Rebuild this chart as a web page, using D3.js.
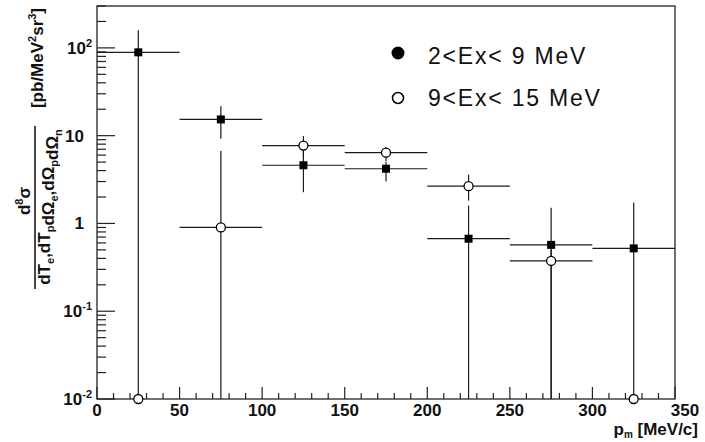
<!DOCTYPE html>
<html>
<head>
<meta charset="utf-8">
<script src="https://cdn.jsdelivr.net/npm/d3@7"></script>
<style>
  html, body { margin: 0; padding: 0; background: #fff; }
  svg { display: block; }
  text { font-family: "Liberation Sans", Arial, Helvetica, sans-serif; fill: #111; }
</style>
</head>
<body>
<svg id="chart" width="705" height="442"></svg>
<script>
// Missing-momentum bins (centres, MeV/c) and half bin width
const pm = [25, 75, 125, 175, 225, 275, 325];
const binHalfWidth = 25;

// 2 < Ex < 9 MeV : cross section and error band limits
const lowExValue = [89, 15.3, 4.6, 4.2, 0.67, 0.57, 0.52];
const lowExHigh  = [159, 21.6, 6.8, 5.0, 1.6, 1.51, 1.73];
const lowExLow   = [0, 9.2, 2.27, 3.0, 0, 0, 0];

// 9 < Ex < 15 MeV : cross section and error band limits (null = no error drawn)
const highExValue = [0.01, 0.90, 7.7, 6.4, 2.66, 0.374, 0.01];
const highExHigh  = [null, 6.7, 9.9, 7.4, 3.6, 0.5, null];
const highExLow   = [null, 0, 5.6, 5.1, 1.82, 0, null];

// Axis ticks
const xMajorTicks = [0, 50, 100, 150, 200, 250, 300, 350];
const yMajorTicks = [0.01, 0.1, 1, 10, 100];
const yTickLabels = [["10", "-2"], ["10", "-1"], ["1", ""], ["10", ""], ["10", "2"]];

const legendLabels = ["2<Ex< 9 MeV", "9<Ex< 15 MeV"];

const svg = d3.select("#chart");
const frame = { left: 97, right: 675, top: 6, bottom: 399 };
const yMin = 0.01, yMax = 300;

const x = d3.scaleLinear().domain([0, 350]).range([frame.left, frame.right]);
const y = d3.scaleLog().domain([yMin, yMax]).range([frame.bottom, frame.top]).clamp(true);
const yc = v => y(Math.max(v, yMin));

const ink = "#1a1a1a";

// Frame
svg.append("rect")
  .attr("x", frame.left).attr("y", frame.top)
  .attr("width", frame.right - frame.left).attr("height", frame.bottom - frame.top)
  .attr("fill", "none").attr("stroke", "#222").attr("stroke-width", 1.3);

// X axis: ticks point into the frame
const xMinor = d3.range(0, 351, 10);
const xAxis = svg.append("g").attr("transform", `translate(0,${frame.bottom})`);
xAxis.selectAll("line.minor").data(xMinor).join("line")
  .attr("x1", d => x(d)).attr("x2", d => x(d))
  .attr("y1", 0).attr("y2", d => (d % 50 === 0 ? -12 : -6))
  .attr("stroke", "#222").attr("stroke-width", 1.2);
xAxis.selectAll("text").data(xMajorTicks).join("text")
  .attr("x", d => x(d) + (d === 350 ? 10 : 0))
  .attr("y", 17)
  .attr("text-anchor", "middle")
  .attr("font-size", 17).attr("font-weight", "bold")
  .text(d => d);

// X title
const xt = svg.append("text")
  .attr("x", 698).attr("y", 435)
  .attr("text-anchor", "end")
  .attr("font-size", 17).attr("font-weight", "bold");
xt.append("tspan").text("p");
xt.append("tspan").attr("font-size", 10).attr("dy", 3).text("m");
xt.append("tspan").attr("dy", -3).text(" [MeV/c]");

// Y axis: log ticks
const yMinor = [];
for (let e = -2; e <= 2; e++) {
  for (let m = 1; m <= 9; m++) {
    const v = m * Math.pow(10, e);
    if (v <= yMax) yMinor.push({ v, major: m === 1 });
  }
}
const yAxis = svg.append("g").attr("transform", `translate(${frame.left},0)`);
yAxis.selectAll("line").data(yMinor).join("line")
  .attr("x1", 0).attr("x2", d => (d.major ? 18 : 9))
  .attr("y1", d => y(d.v)).attr("y2", d => y(d.v))
  .attr("stroke", "#222").attr("stroke-width", 1.2);

yMajorTicks.forEach((v, i) => {
  const [base, exp] = yTickLabels[i];
  const t = svg.append("text")
    .attr("x", exp ? 92 : 84)
    .attr("y", y(v) + 6)
    .attr("text-anchor", "end")
    .attr("font-size", 17).attr("font-weight", "bold");
  t.append("tspan").text(base);
  if (exp) t.append("tspan").attr("font-size", 11).attr("dy", -7).text(exp);
});

// Y title: fraction d8σ / (dTe dTp dΩe dΩp dΩn) with units
const yTitle = svg.append("g");
const num = yTitle.append("text")
  .attr("transform", "translate(30,201) rotate(-90)")
  .attr("text-anchor", "middle")
  .attr("font-size", 17).attr("font-weight", "bold");
num.append("tspan").text("d");
num.append("tspan").attr("font-size", 11).attr("dy", -7).text("8");
num.append("tspan").attr("dy", 7).text("σ");

yTitle.append("line")
  .attr("x1", 35).attr("x2", 35).attr("y1", 126).attr("y2", 289)
  .attr("stroke", ink).attr("stroke-width", 1.6);

const den = yTitle.append("text")
  .attr("transform", "translate(50,207) rotate(-90)")
  .attr("text-anchor", "middle")
  .attr("font-size", 17).attr("font-weight", "bold");
const denParts = [["dT", "e", ","], ["dT", "p", ""], ["dΩ", "e", ","], ["dΩ", "p", ""], ["dΩ", "n", ""]];
denParts.forEach(([main, sub, tail]) => {
  den.append("tspan").text(main);
  den.append("tspan").attr("font-size", 11).attr("dy", 4).text(sub);
  den.append("tspan").attr("dy", -4).text(tail);
});

const units = yTitle.append("text")
  .attr("transform", "translate(43,58) rotate(-90)")
  .attr("text-anchor", "middle")
  .attr("font-size", 17).attr("font-weight", "bold");
units.append("tspan").text("[pb/MeV");
units.append("tspan").attr("font-size", 11).attr("dy", -7).text("2");
units.append("tspan").attr("dy", 7).text("sr");
units.append("tspan").attr("font-size", 11).attr("dy", -7).text("3");
units.append("tspan").attr("dy", 7).text("]");

// Data series
const lowEx = pm.map((p, i) => ({ p, v: lowExValue[i], hi: lowExHigh[i], lo: lowExLow[i] }));
const highEx = pm.map((p, i) => ({ p, v: highExValue[i], hi: highExHigh[i], lo: highExLow[i] }));

const plot = svg.append("g");

function drawErrors(data) {
  const g = plot.append("g").attr("stroke", ink).attr("stroke-width", 1.2);
  const withErr = data.filter(d => d.hi !== null);
  g.selectAll("line.h").data(withErr).join("line")
    .attr("x1", d => x(d.p - binHalfWidth)).attr("x2", d => x(d.p + binHalfWidth))
    .attr("y1", d => yc(d.v)).attr("y2", d => yc(d.v));
  g.selectAll("line.v").data(withErr).join("line")
    .attr("x1", d => x(d.p)).attr("x2", d => x(d.p))
    .attr("y1", d => yc(d.lo)).attr("y2", d => yc(d.hi));
}
drawErrors(lowEx);
drawErrors(highEx);

// Filled squares
plot.append("g").selectAll("rect").data(lowEx).join("rect")
  .attr("x", d => x(d.p) - 4).attr("y", d => yc(d.v) - 4)
  .attr("width", 8).attr("height", 8)
  .attr("fill", "#000");

// Open circles
plot.append("g").selectAll("circle").data(highEx).join("circle")
  .attr("cx", d => x(d.p)).attr("cy", d => yc(d.v))
  .attr("r", 4.5)
  .attr("fill", "#fff").attr("stroke", "#000").attr("stroke-width", 1.3);

// Legend
const legend = svg.append("g");
legend.append("circle").attr("cx", 398).attr("cy", 53).attr("r", 6.5).attr("fill", "#000");
legend.append("circle").attr("cx", 398).attr("cy", 98).attr("r", 5.5)
  .attr("fill", "#fff").attr("stroke", "#000").attr("stroke-width", 1.5);
legend.selectAll("text").data(legendLabels).join("text")
  .attr("x", 428).attr("y", (d, i) => 64 + i * 42)
  .attr("font-size", 23)
  .attr("letter-spacing", 1.8)
  .text(d => d);
</script>
</body>
</html>
